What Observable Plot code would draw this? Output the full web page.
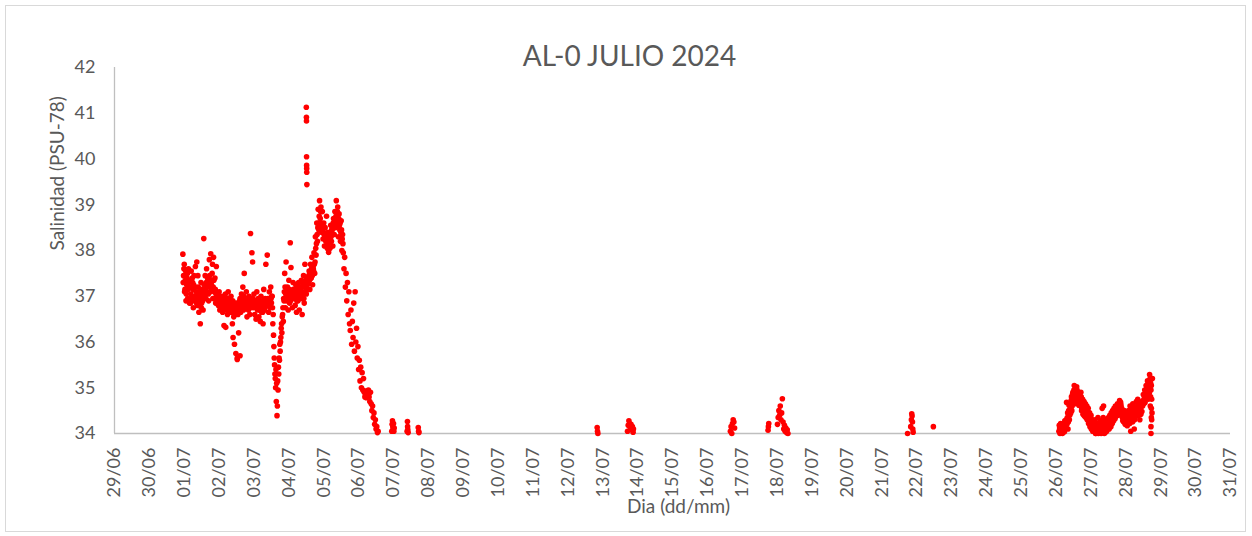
<!DOCTYPE html>
<html>
<head>
<meta charset="utf-8">
<script src="https://cdn.jsdelivr.net/npm/d3@7"></script>
<script src="https://cdn.jsdelivr.net/npm/@observablehq/plot@0.6"></script>
<style>
  html, body { margin: 0; padding: 0; background: #ffffff; }
  #wrap { position: relative; width: 1252px; height: 536px; overflow: hidden; }
  #wrap svg { display: block; position: absolute; left: 0; top: 0; }
  #borde { position: absolute; left: 5px; top: 5px; width: 1241px; height: 527px; border: 1px solid #d9d9d9; box-sizing: border-box; }
</style>
</head>
<body>
<div id="wrap"><div id="borde"></div></div>
<script>
// ---- Texts ----
const titulo = "AL-0 JULIO 2024";
const tituloY = "Salinidad (PSU-78)";
const tituloX = "Dia (dd/mm)";

// ---- Axis ticks ----
const yTicks = [34, 35, 36, 37, 38, 39, 40, 41, 42];
// days counted from 30/06 00:00 (1 = 01/07)
const diaInicio = -1;   // 29/06
const diaFin = 31;      // 31/07

// ---- Logger sampling interval (days) ----
const paso = 0.02;

// ---- Episode 1: 01/07 -> 06/07, readings every "paso" from tramoAInicio ----
const tramoAInicio = 0.96;
const tramoA = [
  37.92,37.45,37.70,37.15,37.55,37.05,37.40,36.95,37.60,37.20,
  37.35,36.85,37.55,37.00,37.30,36.75,37.45,36.90,37.65,37.10,
  37.75,36.80,37.20,36.65,37.05,36.40,37.30,36.85,37.10,36.70,
  38.26,37.00,37.45,36.95,37.60,37.10,37.35,36.90,37.80,37.20,
  37.93,37.25,37.50,36.95,37.85,37.10,37.40,36.85,37.65,37.00,
  37.05,36.80,37.10,36.70,36.95,36.75,37.00,36.65,36.90,36.36,
  36.85,37.05,36.70,36.95,36.60,37.10,36.75,36.90,36.65,37.00,
  36.80,36.40,36.10,36.55,35.95,36.70,35.75,36.85,35.65,36.60,
  36.20,36.75,36.95,36.65,37.05,36.80,37.20,36.70,37.50,36.90,
  36.75,37.10,36.55,36.95,36.70,37.00,36.60,38.37,36.85,37.95,
  37.75,36.75,37.05,36.60,36.90,36.50,37.10,36.70,36.95,36.55,
  36.85,36.45,37.00,36.65,36.90,36.40,37.15,36.70,36.95,37.70,
  36.80,37.90,36.95,36.65,37.10,36.75,37.20,36.85,37.00,36.40,
  36.15,35.65,35.30,35.00,34.70,34.39,35.15,35.45,35.65,35.95,
  36.00,36.30,36.20,36.60,36.45,36.90,37.50,36.75,37.75,37.00,
  37.20,36.70,37.35,36.85,38.17,37.63,37.10,36.75,37.30,36.95,
  37.15,36.80,37.25,36.65,37.05,36.90,37.30,36.70,37.20,36.95,
  37.35,36.60,37.10,37.45,36.85,37.70,37.20,37.05,37.40,37.15,
  37.30,37.55,37.15,37.70,37.40,37.85,37.25,37.60,37.95,37.50,
  38.30,37.90,38.60,38.20,38.90,38.45,39.09,38.70,38.95,38.40,
  38.85,38.25,38.60,38.10,38.50,38.20,38.75,38.05,38.40,37.96,
  38.30,38.05,38.55,38.20,38.45,38.10,38.70,38.35,38.85,38.50,
  39.09,38.60,38.95,38.30,38.80,38.45,38.20,38.65,38.00,38.35,
  37.95,37.60,37.85,37.20,37.50,36.90,37.30,36.60,37.10,36.40,
  36.25,36.70,35.95,36.45,36.10,36.85,35.80,37.10,36.00,36.30,
  35.65,35.90,35.40,35.60,35.15,35.45,35.00,35.33,34.95,35.20,
  34.90,34.80,34.93,34.78,34.88,34.85,34.95,34.80,34.70,34.90,
  34.65,34.50,34.60,34.35,34.45,34.20,34.30,34.10,34.15,34.02,
  34.05
];
// second sensor pass, interleaved half a step later
const tramoA2Inicio = 0.97;
const tramoA2 = [
  37.30,37.60,37.10,37.35,36.90,37.25,37.50,37.15,37.30,36.85,
  37.20,37.05,36.95,37.40,37.15,37.25,36.95,37.20,37.00,36.85,
  37.00,37.45,36.90,37.10,36.80,36.95,36.75,37.15,36.90,37.00,
  37.25,37.15,37.05,37.30,37.20,37.40,37.05,37.25,37.45,37.10,
  37.35,37.15,37.70,37.20,37.35,36.95,37.15,37.05,36.95,36.85,
  36.90,36.95,36.85,36.90,36.80,36.95,36.80,36.90,36.75,36.85,
  36.95,36.80,36.90,36.75,36.85,36.70,36.95,36.80,36.90,36.75,
  36.65,36.90,36.75,36.85,36.60,36.80,36.70,36.75,36.65,36.80,
  36.85,36.90,36.80,36.95,36.75,36.90,36.85,37.00,36.80,36.95,
  36.90,36.80,36.85,36.75,36.90,36.80,36.95,36.75,36.90,36.85,
  36.95,36.85,36.80,36.90,36.75,36.85,36.80,36.90,36.75,36.85,
  36.70,36.80,36.75,36.85,36.65,36.80,36.90,36.75,36.85,36.80,
  36.90,36.85,36.80,36.95,36.85,36.90,36.95,37.00,36.75,36.60,
  35.90,35.50,35.20,35.40,35.10,34.60,34.95,35.30,35.60,35.80,
  36.10,36.40,36.55,36.75,36.95,37.10,37.20,37.05,36.90,37.15,
  37.05,36.95,37.15,37.00,36.90,37.10,36.95,37.05,37.15,37.00,
  37.00,36.95,37.10,36.90,37.15,37.05,37.00,37.20,36.95,37.10,
  37.20,37.00,37.25,36.95,37.30,37.10,37.35,37.15,37.25,37.35,
  37.45,37.35,37.50,37.40,37.60,37.45,37.65,37.55,37.70,37.75,
  38.05,38.15,38.35,38.50,38.60,38.75,38.55,38.85,38.60,38.50,
  38.45,38.40,38.35,38.30,38.25,38.35,38.20,38.30,38.15,38.25,
  38.20,38.35,38.30,38.45,38.35,38.60,38.50,38.65,38.55,38.75,
  38.70,38.85,38.60,38.70,38.55,38.60,38.40,38.45,38.25,38.15
];

// ---- Episode 2: 26/07 -> 28/07 ----
const tramoBInicio = 26.08;
const tramoB = [
  34.05,34.12,34.02,34.15,34.08,34.00,34.18,34.10,34.04,34.25,
  34.15,34.68,34.35,34.10,34.50,34.30,34.65,34.45,34.80,34.60,
  34.90,34.75,35.05,34.85,35.00,34.80,34.95,34.70,34.90,34.75,
  34.85,34.60,34.80,34.55,34.75,34.50,34.70,34.45,34.65,34.40,
  34.60,34.35,34.55,34.30,34.45,34.20,34.40,34.15,34.30,34.10,
  34.25,34.05,34.30,34.00,34.20,34.08,34.35,34.02,34.15,34.10,
  34.28,34.05,34.55,34.12,34.60,34.00,34.22,34.08,34.30,34.15,
  34.20,34.35,34.10,34.40,34.25,34.45,34.30,34.50,34.35,34.55,
  34.40,34.60,34.45,34.50,34.65,34.42,34.58,34.72,34.48,34.62,
  34.55,34.35,34.50,34.25,34.45,34.20,34.40,34.30,34.17,34.45,
  34.50,34.30,34.60,34.05,34.55,34.40,34.65,34.35,34.10,34.58,
  34.45,34.70,34.50,34.75,34.40,34.62,34.30,34.55,34.68,34.48,
  34.60,34.85,34.70,34.95,34.80,35.05,34.90,35.15,34.75,35.00,
  35.29,34.60,34.95,34.30,35.20
];
const tramoB2Inicio = 26.09;
const tramoB2 = [
  34.18,34.00,34.22,34.06,34.14,34.03,34.10,34.20,34.28,34.12,
  34.30,34.20,34.45,34.25,34.62,34.40,34.55,34.72,34.50,34.85,
  34.70,34.95,34.65,34.92,34.78,35.02,34.68,34.88,34.62,34.82,
  34.70,34.90,34.50,34.72,34.42,34.68,34.38,34.60,34.35,34.52,
  34.30,34.48,34.22,34.42,34.15,34.35,34.10,34.28,34.05,34.22,
  34.12,34.18,34.00,34.15,34.04,34.22,34.00,34.18,34.06,34.25,
  34.00,34.20,34.03,34.35,34.10,34.25,34.02,34.15,34.05,34.22,
  34.12,34.28,34.18,34.30,34.15,34.35,34.22,34.40,34.28,34.45,
  34.32,34.50,34.38,34.55,34.40,34.62,34.52,34.45,34.68,34.40,
  34.42,34.28,34.38,34.50,34.30,34.42,34.22,34.48,34.35,34.28,
  34.40,34.22,34.48,34.35,34.42,34.25,34.50,34.45,34.30,34.42,
  34.55,34.38,34.60,34.45,34.65,34.50,34.58,34.42,34.62,34.70,
  34.72,34.65,34.80,34.68,34.90,34.85,35.00,34.92,35.10,34.88,
  35.15,34.80,35.05,34.45
];

// ---- Isolated readings [day, salinity] ----
const picoDia4 = [
  [4.500, 41.13], [4.503, 40.91], [4.505, 40.83], [4.507, 40.05],
  [4.509, 39.86], [4.511, 39.79], [4.513, 39.71], [4.516, 39.44]
];
const extrasDia2 = [[2.52, 35.62], [2.60, 35.70], [2.19, 36.32]];
const extrasDia28 = [
  [28.70, 35.22], [28.71, 35.10], [28.72, 34.00], [28.72, 34.15],
  [28.73, 34.35], [28.73, 34.55], [28.74, 34.75]
];
const episodiosCortos = [
  [6.95, 34.05], [6.96, 34.20], [6.97, 34.28], [6.98, 34.15], [6.99, 34.10], [7.00, 34.22], [7.01, 34.05], [7.02, 34.12],
  [7.39, 34.05], [7.40, 34.26], [7.405, 34.15], [7.41, 34.08], [7.42, 34.02],
  [7.71, 34.13], [7.72, 34.05], [7.73, 34.02],
  [12.84, 34.13], [12.85, 34.05], [12.86, 34.00],
  [13.71, 34.05], [13.73, 34.18], [13.75, 34.28], [13.77, 34.22], [13.79, 34.12], [13.81, 34.20], [13.83, 34.08], [13.85, 34.15], [13.87, 34.03], [13.88, 34.10],
  [16.66, 34.05], [16.68, 34.15], [16.70, 34.00], [16.72, 34.22], [16.74, 34.30], [16.76, 34.25], [16.78, 34.12],
  [17.74, 34.07], [17.75, 34.15], [17.76, 34.22],
  [18.01, 34.20], [18.03, 34.35], [18.05, 34.50], [18.07, 34.40], [18.09, 34.60], [18.11, 34.30], [18.13, 34.45], [18.15, 34.76],
  [18.17, 34.25], [18.19, 34.10], [18.21, 34.18], [18.23, 34.05], [18.25, 34.12], [18.27, 34.02], [18.29, 34.08], [18.31, 34.00],
  [21.74, 34.00], [21.83, 34.15], [21.85, 34.30], [21.86, 34.43], [21.87, 34.38], [21.88, 34.25], [21.89, 34.10], [21.90, 34.03],
  [22.48, 34.15]
];

// ---- Build table ----
const origen = Date.UTC(2024, 5, 30); // 30/06/2024 00:00 UTC
const aFecha = d => new Date(origen + d * 86400000);
const registros = [];
const agregarTramo = (inicio, valores) =>
  valores.forEach((v, i) => registros.push({fecha: aFecha(inicio + i * paso), sal: v}));
agregarTramo(tramoAInicio, tramoA);
agregarTramo(tramoA2Inicio, tramoA2);
agregarTramo(tramoBInicio, tramoB);
agregarTramo(tramoB2Inicio, tramoB2);
for (const [d, v] of [...picoDia4, ...extrasDia2, ...extrasDia28, ...episodiosCortos]) {
  registros.push({fecha: aFecha(d), sal: v});
}

const xTicks = d3.utcDay.range(aFecha(diaInicio), aFecha(diaFin + 0.5));
const gris = "#595959";

const chart = Plot.plot({
  width: 1252,
  height: 536,
  marginLeft: 114,
  marginRight: 22,
  marginTop: 67,
  marginBottom: 103,
  style: {fontFamily: "Lato, 'Open Sans', sans-serif", color: gris, background: "transparent", overflow: "visible"},
  x: {type: "utc", domain: [aFecha(diaInicio), aFecha(diaFin)]},
  y: {domain: [34, 42]},
  marks: [
    Plot.ruleX([aFecha(diaInicio)], {stroke: "#bfbfbf", strokeWidth: 1.3}),
    Plot.ruleY([34], {stroke: "#bfbfbf", strokeWidth: 1.3}),
    Plot.axisY({ticks: yTicks, tickSize: 0, tickPadding: 19, fontSize: 18, label: null, fill: gris}),
    Plot.axisX({ticks: xTicks, tickFormat: d3.utcFormat("%d/%m"), tickRotate: -90, tickSize: 0, tickPadding: 14, fontSize: 18, label: null, fill: gris}),
    Plot.dot(registros, {x: "fecha", y: "sal", r: 2.8, fill: "#ff0000", stroke: null}),
    Plot.text([titulo], {frameAnchor: "top", dx: -43, dy: -21, fontSize: 28, fill: gris}),
    Plot.text([tituloY], {frameAnchor: "left", dx: -57, rotate: -90, fontSize: 19, fill: gris}),
    Plot.text([tituloX], {frameAnchor: "bottom", dx: 6, dy: 79, fontSize: 19, fill: gris})
  ]
});
document.getElementById("wrap").appendChild(chart);
</script>
</body>
</html>
